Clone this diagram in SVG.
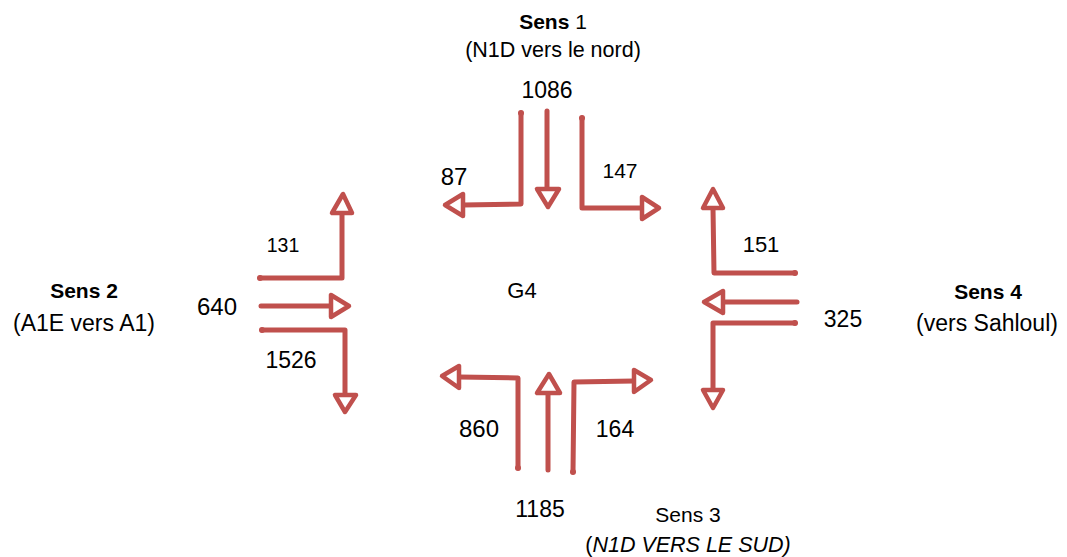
<svg xmlns="http://www.w3.org/2000/svg" width="1067" height="557" viewBox="0 0 1067 557">
  <style>
    .flow { fill: none; stroke: #c0504d; stroke-width: 5; stroke-linecap: round; stroke-linejoin: round; }
    .head { fill: #ffffff; stroke: #c0504d; stroke-width: 4.5; stroke-linejoin: round; }
    .dot { fill: #c0504d; }
    text { font-family: "Liberation Sans", Arial, sans-serif; fill: #000000; text-anchor: middle; }
    .lbl { font-size: 23px; }
    .title { font-size: 21px; }
    .sub { font-size: 23px; }
    .b { font-weight: bold; }
  </style>
  <rect width="1067" height="557" fill="#ffffff"/>

  <!-- Direction titles -->
  <g id="sens1">
    <text x="553" y="29" class="title"><tspan class="b">Sens</tspan> 1</text>
    <text x="553" y="57" style="font-size:21.5px">(N1D vers le nord)</text>
  </g>
  <g id="sens2">
    <text x="84" y="298" class="title b">Sens 2</text>
    <text x="84" y="331" class="sub">(A1E vers A1)</text>
  </g>
  <g id="sens4">
    <text x="988" y="299" class="title b">Sens 4</text>
    <text x="987" y="331" class="sub">(vers Sahloul)</text>
  </g>
  <g id="sens3">
    <text x="688" y="522" class="title">Sens 3</text>
    <text x="688" y="552" style="font-size:21.5px">(<tspan font-style="italic">N1D VERS LE SUD)</tspan></text>
  </g>
  <g id="g4">
    <text x="522" y="298" style="font-size:22px">G4</text>
  </g>

  <!-- Flow counts -->
  <g id="counts">
    <text x="547" y="98" class="lbl">1086</text>
    <text x="454" y="185" style="font-size:24px">87</text>
    <text x="620" y="178" style="font-size:21px">147</text>
    <text x="283" y="252" style="font-size:19.5px">131</text>
    <text x="217" y="315" style="font-size:24px">640</text>
    <text x="291" y="368" class="lbl">1526</text>
    <text x="761" y="252" style="font-size:22px">151</text>
    <text x="843" y="327" class="lbl">325</text>
    <text x="479" y="437" style="font-size:24px">860</text>
    <text x="615" y="437" class="lbl">164</text>
    <text x="540" y="517" class="lbl">1185</text>
  </g>

  <!-- Turning movements -->
  <g id="connectors">
    <!-- North approach -->
    <path class="flow" d="M521,113 L521,204 L463,205"/>
    <circle class="dot" cx="521" cy="113" r="3"/>
    <polygon class="head" points="463,194 463,216 445,205"/>
    <path class="flow" d="M547,111 L547,189"/>
    <polygon class="head" points="537,189 559,189 548,207"/>
    <path class="flow" d="M582,118 L582,208 L642,208"/>
    <circle class="dot" cx="582" cy="118" r="3"/>
    <polygon class="head" points="642,197 642,219 659,208"/>

    <!-- West approach -->
    <path class="flow" d="M260,278 L342,278 L342,213"/>
    <circle class="dot" cx="260" cy="278" r="3"/>
    <polygon class="head" points="332,213 352,213 343,194"/>
    <path class="flow" d="M261,306 L331,306"/>
    <polygon class="head" points="331,295 331,317 349,306"/>
    <path class="flow" d="M262,330 L345,330 L345,395"/>
    <circle class="dot" cx="262" cy="330" r="3"/>
    <polygon class="head" points="335,395 356,395 345,412"/>

    <!-- East approach -->
    <path class="flow" d="M795,273 L714,273 L713,208"/>
    <circle class="dot" cx="795" cy="273" r="3"/>
    <polygon class="head" points="703,208 723,208 713,189"/>
    <path class="flow" d="M797,302 L723,302"/>
    <polygon class="head" points="723,291 723,313 704,302"/>
    <path class="flow" d="M795,323 L713,323 L713,390"/>
    <circle class="dot" cx="795" cy="323" r="3"/>
    <polygon class="head" points="703,390 723,390 713,408"/>

    <!-- South approach -->
    <path class="flow" d="M518,468 L518,378 L459,377"/>
    <circle class="dot" cx="518" cy="468" r="3"/>
    <polygon class="head" points="459,366 459,388 442,376"/>
    <path class="flow" d="M548,470 L548,393"/>
    <polygon class="head" points="537,393 560,393 549,374"/>
    <path class="flow" d="M573,472 L574,382 L634,381"/>
    <circle class="dot" cx="573" cy="472" r="3"/>
    <polygon class="head" points="634,370 634,392 651,380"/>
  </g>
</svg>
